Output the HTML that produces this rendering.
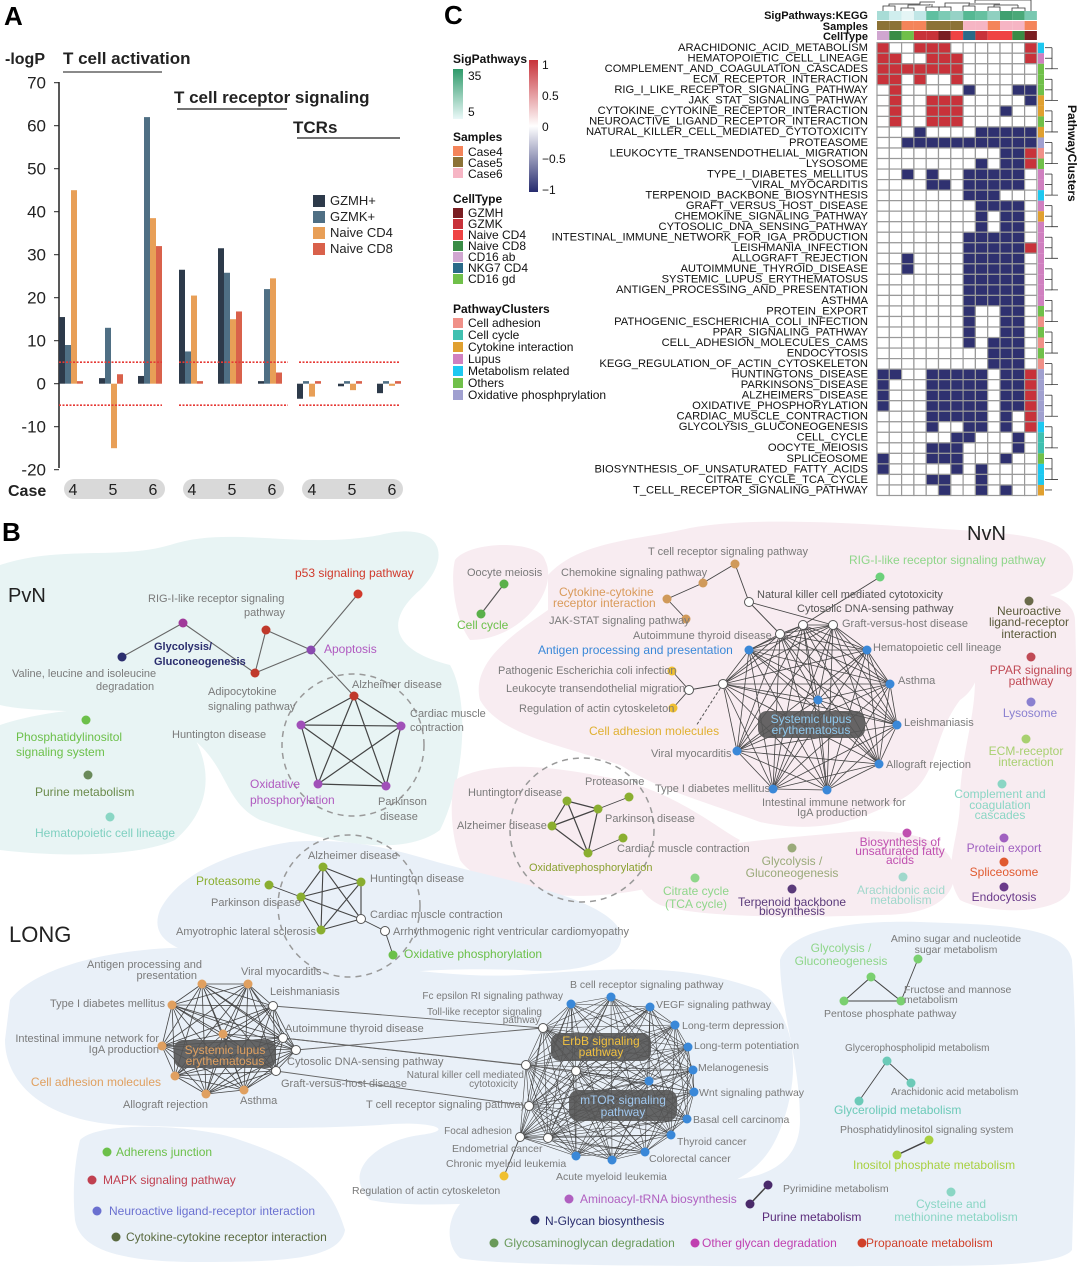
<!DOCTYPE html>
<html><head><meta charset="utf-8"><style>
body{margin:0;background:#fff}
svg{display:block;font-family:"Liberation Sans",sans-serif}
.g{fill:#7a7a7a;font-size:11px}
.hl text{font-size:11.2px;fill:#111;text-anchor:end}
</style></head><body>
<svg id="s" width="1080" height="1276" viewBox="0 0 1080 1276" xmlns="http://www.w3.org/2000/svg">
<!-- ===== Panel A ===== -->
<text x="4" y="25" font-size="26" font-weight="bold">A</text>
<text x="5" y="64" font-size="16" font-weight="bold" fill="#222">-logP</text>
<text x="63" y="64" font-size="17" font-weight="bold" fill="#222">T cell activation</text>
<line x1="63" y1="72" x2="162" y2="72" stroke="#444" stroke-width="1.2"/>
<text x="174" y="103" font-size="17" font-weight="bold" fill="#222">T cell receptor signaling</text>
<line x1="177" y1="109" x2="287" y2="109" stroke="#222" stroke-width="1.2"/>
<text x="293" y="133" font-size="17" font-weight="bold" fill="#222">TCRs</text>
<line x1="297" y1="138" x2="400" y2="138" stroke="#222" stroke-width="1.2"/>
<g id="ga"></g>
<g font-size="13" fill="#222">
<rect x="313" y="195" width="12" height="12" fill="#2d3a4a"/><text x="330" y="205">GZMH+</text>
<rect x="313" y="211" width="12" height="12" fill="#4f6f84"/><text x="330" y="221">GZMK+</text>
<rect x="313" y="227" width="12" height="12" fill="#e89f57"/><text x="330" y="237">Naive CD4</text>
<rect x="313" y="243" width="12" height="12" fill="#d9614b"/><text x="330" y="253">Naive CD8</text>
</g>
<text x="8" y="496" font-size="16" font-weight="bold" fill="#222">Case</text>
<rect x="64" y="479" width="101" height="20" rx="10" fill="#d9d9d9"/>
<rect x="183" y="479" width="101" height="20" rx="10" fill="#d9d9d9"/>
<rect x="302" y="479" width="101" height="20" rx="10" fill="#d9d9d9"/>
<g font-size="16" fill="#222" text-anchor="middle">
<text x="73" y="495">4</text><text x="113" y="495">5</text><text x="153" y="495">6</text>
<text x="192" y="495">4</text><text x="232" y="495">5</text><text x="272" y="495">6</text>
<text x="312" y="495">4</text><text x="352" y="495">5</text><text x="392" y="495">6</text>
</g>

<!-- ===== Panel C ===== -->
<text x="444" y="24" font-size="26" font-weight="bold">C</text>
<g font-size="11" font-weight="bold" text-anchor="end" fill="#111">
<text x="868" y="19">SigPathways:KEGG</text><text x="868" y="30">Samples</text><text x="868" y="40">CellType</text>
</g>
<g id="gc"></g>
<g class="hl">
<text x="868" y="51">ARACHIDONIC_ACID_METABOLISM</text>
<text x="868" y="61.5">HEMATOPOIETIC_CELL_LINEAGE</text>
<text x="868" y="72">COMPLEMENT_AND_COAGULATION_CASCADES</text>
<text x="868" y="82.6">ECM_RECEPTOR_INTERACTION</text>
<text x="868" y="93.1">RIG_I_LIKE_RECEPTOR_SIGNALING_PATHWAY</text>
<text x="868" y="103.6">JAK_STAT_SIGNALING_PATHWAY</text>
<text x="868" y="114.2">CYTOKINE_CYTOKINE_RECEPTOR_INTERACTION</text>
<text x="868" y="124.7">NEUROACTIVE_LIGAND_RECEPTOR_INTERACTION</text>
<text x="868" y="135.2">NATURAL_KILLER_CELL_MEDIATED_CYTOTOXICITY</text>
<text x="868" y="145.8">PROTEASOME</text>
<text x="868" y="156.3">LEUKOCYTE_TRANSENDOTHELIAL_MIGRATION</text>
<text x="868" y="166.8">LYSOSOME</text>
<text x="868" y="177.4">TYPE_I_DIABETES_MELLITUS</text>
<text x="868" y="187.9">VIRAL_MYOCARDITIS</text>
<text x="868" y="198.4">TERPENOID_BACKBONE_BIOSYNTHESIS</text>
<text x="868" y="209">GRAFT_VERSUS_HOST_DISEASE</text>
<text x="868" y="219.5">CHEMOKINE_SIGNALING_PATHWAY</text>
<text x="868" y="230">CYTOSOLIC_DNA_SENSING_PATHWAY</text>
<text x="868" y="240.6">INTESTINAL_IMMUNE_NETWORK_FOR_IGA_PRODUCTION</text>
<text x="868" y="251.1">LEISHMANIA_INFECTION</text>
<text x="868" y="261.6">ALLOGRAFT_REJECTION</text>
<text x="868" y="272.2">AUTOIMMUNE_THYROID_DISEASE</text>
<text x="868" y="282.7">SYSTEMIC_LUPUS_ERYTHEMATOSUS</text>
<text x="868" y="293.2">ANTIGEN_PROCESSING_AND_PRESENTATION</text>
<text x="868" y="303.8">ASTHMA</text>
<text x="868" y="314.3">PROTEIN_EXPORT</text>
<text x="868" y="324.8">PATHOGENIC_ESCHERICHIA_COLI_INFECTION</text>
<text x="868" y="335.4">PPAR_SIGNALING_PATHWAY</text>
<text x="868" y="345.9">CELL_ADHESION_MOLECULES_CAMS</text>
<text x="868" y="356.4">ENDOCYTOSIS</text>
<text x="868" y="367">KEGG_REGULATION_OF_ACTIN_CYTOSKELETON</text>
<text x="868" y="377.5">HUNTINGTONS_DISEASE</text>
<text x="868" y="388">PARKINSONS_DISEASE</text>
<text x="868" y="398.6">ALZHEIMERS_DISEASE</text>
<text x="868" y="409.1">OXIDATIVE_PHOSPHORYLATION</text>
<text x="868" y="419.6">CARDIAC_MUSCLE_CONTRACTION</text>
<text x="868" y="430.2">GLYCOLYSIS_GLUCONEOGENESIS</text>
<text x="868" y="440.7">CELL_CYCLE</text>
<text x="868" y="451.2">OOCYTE_MEIOSIS</text>
<text x="868" y="461.8">SPLICEOSOME</text>
<text x="868" y="472.3">BIOSYNTHESIS_OF_UNSATURATED_FATTY_ACIDS</text>
<text x="868" y="482.8">CITRATE_CYCLE_TCA_CYCLE</text>
<text x="868" y="493.4">T_CELL_RECEPTOR_SIGNALING_PATHWAY</text>
</g>
<text transform="translate(1068,105) rotate(90)" font-size="12" font-weight="bold" fill="#111">PathwayClusters</text>
<defs>
<linearGradient id="gr1" x1="0" y1="0" x2="0" y2="1"><stop offset="0" stop-color="#2e9a6a"/><stop offset="1" stop-color="#eaf8f8"/></linearGradient>
<linearGradient id="gr2" x1="0" y1="0" x2="0" y2="1"><stop offset="0" stop-color="#c8323a"/><stop offset=".5" stop-color="#ffffff"/><stop offset="1" stop-color="#262b6e"/></linearGradient>
</defs>
<g font-size="12" fill="#111">
<text x="453" y="63" font-weight="bold">SigPathways</text>
<rect x="453" y="69" width="10" height="50" fill="url(#gr1)"/>
<text x="468" y="80">35</text><text x="468" y="116">5</text>
<rect x="529" y="60" width="9" height="132" fill="url(#gr2)"/>
<text x="542" y="69">1</text><text x="542" y="100">0.5</text><text x="542" y="131">0</text><text x="542" y="163">−0.5</text><text x="542" y="194">−1</text>
<text x="453" y="141" font-weight="bold">Samples</text>
<rect x="453" y="146" width="10" height="10" fill="#f4845a"/><text x="468" y="156">Case4</text>
<rect x="453" y="157" width="10" height="10" fill="#8c7236"/><text x="468" y="167">Case5</text>
<rect x="453" y="168" width="10" height="10" fill="#f6b5c4"/><text x="468" y="178">Case6</text>
<text x="453" y="203" font-weight="bold">CellType</text>
<rect x="453" y="208" width="10" height="10" fill="#7a1e22"/><text x="468" y="217">GZMH</text>
<rect x="453" y="219" width="10" height="10" fill="#c8323a"/><text x="468" y="228">GZMK</text>
<rect x="453" y="230" width="10" height="10" fill="#ef4444"/><text x="468" y="239">Naive CD4</text>
<rect x="453" y="241" width="10" height="10" fill="#3a8c46"/><text x="468" y="250">Naive CD8</text>
<rect x="453" y="252" width="10" height="10" fill="#d0a6d0"/><text x="468" y="261">CD16 ab</text>
<rect x="453" y="263" width="10" height="10" fill="#2a6a88"/><text x="468" y="272">NKG7 CD4</text>
<rect x="453" y="274" width="10" height="10" fill="#70c04a"/><text x="468" y="283">CD16 gd</text>
<text x="453" y="313" font-weight="bold">PathwayClusters</text>
<rect x="453" y="318" width="10" height="10" fill="#f09088"/><text x="468" y="327">Cell adhesion</text>
<rect x="453" y="330" width="10" height="10" fill="#40c0b0"/><text x="468" y="339">Cell cycle</text>
<rect x="453" y="342" width="10" height="10" fill="#e0a030"/><text x="468" y="351">Cytokine interaction</text>
<rect x="453" y="354" width="10" height="10" fill="#d080c0"/><text x="468" y="363">Lupus</text>
<rect x="453" y="366" width="10" height="10" fill="#1ec8f0"/><text x="468" y="375">Metabolism related</text>
<rect x="453" y="378" width="10" height="10" fill="#70c04a"/><text x="468" y="387">Others</text>
<rect x="453" y="390" width="10" height="10" fill="#a0a0d0"/><text x="468" y="399">Oxidative phosphprylation</text>
</g>

<!-- ===== Panel B ===== -->
<text x="2" y="541" font-size="26" font-weight="bold">B</text>
<g id="blobs">
<path d="M0,565 C60,545 120,560 170,545 C230,525 300,550 380,535 C440,520 455,555 420,590 C385,620 390,650 450,665 C470,700 465,780 440,830 C400,860 320,840 260,820 C220,800 230,760 180,730 C120,705 40,715 0,705 Z" fill="#e8f4f4"/>
<path d="M0,725 C60,705 160,700 190,730 C215,770 210,810 175,840 C130,860 40,855 0,850 Z" fill="#e8f4f4"/>
<path d="M455,560 C470,540 540,540 545,560 C560,590 520,640 470,640 C455,620 450,580 455,560 Z" fill="#f8ecf1"/>
<path d="M548,575 C580,540 640,540 690,528 C760,515 880,525 960,530 C1050,535 1080,545 1072,580 C1060,600 1030,595 1000,610 C975,640 990,680 960,700 C930,740 940,780 900,800 C860,820 820,835 760,822 C700,800 660,790 620,765 C560,745 500,735 480,700 C470,660 520,630 548,610 Z" fill="#f8ecf1"/>
<path d="M985,615 C1010,580 1075,590 1075,620 C1078,700 1075,790 1070,890 C1060,915 990,915 960,900 C940,870 960,840 960,800 C960,760 975,720 975,680 C975,650 970,635 985,615 Z" fill="#f8ecf1"/>
<path d="M455,780 C490,760 550,765 620,780 C680,795 720,830 740,840 C720,870 680,880 640,890 C560,905 480,890 460,860 C450,830 450,800 455,780 Z" fill="#f8ecf1"/>
<path d="M640,870 C680,845 760,840 850,832 C910,828 950,840 955,870 C955,900 930,915 880,915 C800,918 700,918 660,905 C640,895 635,880 640,870 Z" fill="#f8ecf1"/>
<path d="M160,910 C180,870 240,850 290,842 C340,838 380,845 430,860 C500,880 600,895 620,930 C630,960 580,975 520,970 C460,968 420,970 380,975 C300,975 240,965 200,955 C170,948 150,935 160,910 Z" fill="#e9f0f8"/>
<path d="M10,1000 C40,960 150,940 240,950 C330,955 430,980 520,975 C600,970 680,960 760,990 C800,1020 800,1080 780,1130 C760,1180 720,1200 600,1200 C500,1200 420,1210 370,1200 C340,1170 380,1140 420,1135 C460,1130 430,1120 380,1125 C300,1130 200,1128 120,1125 C40,1120 5,1080 5,1040 Z" fill="#e9f0f8"/>
<path d="M780,960 C790,930 850,920 920,922 C1000,925 1065,925 1072,960 C1078,1050 1075,1150 1072,1250 C1060,1266 980,1266 900,1266 C800,1266 500,1268 460,1258 C440,1240 450,1200 480,1190 C540,1175 640,1175 720,1180 C770,1180 800,1160 800,1120 C800,1060 780,1010 780,960 Z" fill="#e9f0f8"/>
<path d="M80,1140 C100,1120 200,1125 240,1140 C300,1160 330,1180 345,1230 C340,1260 280,1262 200,1262 C120,1262 80,1250 75,1220 C72,1190 75,1160 80,1140 Z" fill="#e9f0f8"/>
</g>
<g id="edges" stroke="#444" stroke-width="0.8" fill="none"></g>
<g fill="none" stroke="#999" stroke-width="1.5" stroke-dasharray="6,5">
<circle cx="353" cy="745" r="71"/><circle cx="582" cy="830" r="72"/><circle cx="349" cy="906" r="71"/>
</g>
<line x1="723" y1="684" x2="696" y2="726" stroke="#555" stroke-dasharray="3,2"/>
<rect x="758" y="711" width="107" height="27" rx="9" fill="#555" opacity=".9"/>
<rect x="174" y="1040" width="102" height="28" rx="9" fill="#555" opacity=".9"/>
<rect x="551" y="1033" width="100" height="28" rx="9" fill="#555" opacity=".9"/>
<rect x="569" y="1090" width="108" height="31" rx="9" fill="#555" opacity=".9"/>
<g id="nodes"></g>
<g class="g">
<text x="8" y="602" font-size="20" fill="#222">PvN</text>
<text x="295" y="577" font-size="12" fill="#d0392b">p53 signaling pathway</text>
<text x="148" y="602">RIG-I-like receptor signaling</text><text x="244" y="616">pathway</text>
<text x="154" y="650" font-weight="bold" fill="#2b2e6e">Glycolysis/</text><text x="154" y="665" font-weight="bold" fill="#2b2e6e">Gluconeogenesis</text>
<text x="324" y="653" font-size="12" fill="#b05ac0">Apoptosis</text>
<text x="12" y="677">Valine, leucine and isoleucine</text><text x="96" y="690">degradation</text>
<text x="208" y="695">Adipocytokine</text><text x="208" y="710">signaling pathway</text>
<text x="172" y="738">Huntington disease</text>
<text x="352" y="688">Alzheimer disease</text>
<text x="410" y="717">Cardiac muscle</text><text x="410" y="731">contraction</text>
<text x="250" y="788" font-size="12" fill="#b05ac0">Oxidative</text><text x="250" y="804" font-size="12" fill="#b05ac0">phosphorylation</text>
<text x="378" y="805">Parkinson</text><text x="380" y="820">disease</text>
<text x="16" y="741" font-size="12" fill="#6cc04a">Phosphatidylinositol</text><text x="16" y="756" font-size="12" fill="#6cc04a">signaling system</text>
<text x="35" y="796" font-size="12" fill="#6a8a4a">Purine metabolism</text>
<text x="35" y="837" font-size="12" fill="#7fd0c0">Hematopoietic cell lineage</text>

<text x="967" y="540" font-size="20" fill="#222">NvN</text>
<text x="467" y="576">Oocyte meiosis</text>
<text x="457" y="629" font-size="12" fill="#6cc04a">Cell cycle</text>
<text x="648" y="555">T cell receptor signaling pathway</text>
<text x="561" y="576">Chemokine signaling pathway</text>
<text x="559" y="596" font-size="12" fill="#d99a5a">Cytokine-cytokine</text><text x="553" y="607" font-size="12" fill="#d99a5a">receptor interaction</text>
<text x="549" y="624">JAK-STAT signaling pathway</text>
<text x="757" y="598" fill="#555">Natural killer cell mediated cytotoxicity</text>
<text x="797" y="612" fill="#555">Cytosolic DNA-sensing pathway</text>
<text x="842" y="627">Graft-versus-host disease</text>
<text x="633" y="639">Autoimmune thyroid disease</text>
<text x="538" y="654" font-size="12" fill="#3a88d8">Antigen processing and presentation</text>
<text x="873" y="651">Hematopoietic cell lineage</text>
<text x="849" y="564" font-size="12" fill="#8fd68a">RIG-I-like receptor signaling pathway</text>
<text x="498" y="674">Pathogenic Escherichia coli infection</text>
<text x="506" y="692">Leukocyte transendothelial migration</text>
<text x="519" y="712">Regulation of actin cytoskeleton</text>
<text x="589" y="735" font-size="12" fill="#e0b030">Cell adhesion molecules</text>
<text x="898" y="684">Asthma</text>
<text x="904" y="726">Leishmaniasis</text>
<text x="651" y="757">Viral myocarditis</text>
<text x="886" y="768">Allograft rejection</text>
<text x="655" y="792">Type I diabetes mellitus</text>
<text x="762" y="806">Intestinal immune network for</text><text x="797" y="816">IgA production</text>
<text x="811" y="723" font-size="12" fill="#8ec8ee" text-anchor="middle">Systemic lupus</text><text x="811" y="734" font-size="12" fill="#8ec8ee" text-anchor="middle">erythematosus</text>
<g text-anchor="middle" font-size="12">
<text x="1029" y="615" fill="#5a5a3a">Neuroactive</text><text x="1029" y="626" fill="#5a5a3a">ligand-receptor</text><text x="1029" y="638" fill="#5a5a3a">interaction</text>
<text x="1031" y="674" fill="#c04a55">PPAR signaling</text><text x="1031" y="685" fill="#c04a55">pathway</text>
<text x="1030" y="717" fill="#8a80d0">Lysosome</text>
<text x="1026" y="755" fill="#a8d070">ECM-receptor</text><text x="1026" y="766" fill="#a8d070">interaction</text>
<text x="1000" y="798" fill="#8ad6c4">Complement and</text><text x="1000" y="809" fill="#8ad6c4">coagulation</text><text x="1000" y="819" fill="#8ad6c4">cascades</text>
<text x="1004" y="852" fill="#a060c0">Protein export</text>
<text x="1004" y="876" fill="#e05a30">Spliceosome</text>
<text x="1004" y="901" fill="#6a3a8a">Endocytosis</text>
<text x="900" y="846" fill="#c050b0">Biosynthesis of</text><text x="900" y="855" fill="#c050b0">unsaturated fatty</text><text x="900" y="864" fill="#c050b0">acids</text>
<text x="792" y="865" fill="#9aaa7a">Glycolysis /</text><text x="792" y="877" fill="#9aaa7a">Gluconeogenesis</text>
<text x="696" y="895" fill="#8fd68a">Citrate cycle</text><text x="696" y="908" fill="#8fd68a">(TCA cycle)</text>
<text x="792" y="906" fill="#5a3a7a">Terpenoid backbone</text><text x="792" y="915" fill="#5a3a7a">biosynthesis</text>
<text x="901" y="894" fill="#a0d8cc">Arachidonic acid</text><text x="901" y="904" fill="#a0d8cc">metabolism</text>
</g>
<text x="585" y="785">Proteasome</text>
<text x="468" y="796">Huntington disease</text>
<text x="605" y="822">Parkinson disease</text>
<text x="457" y="829">Alzheimer disease</text>
<text x="617" y="852">Cardiac muscle contraction</text>
<text x="529" y="871" fill="#8aa030">Oxidativephosphorylation</text>

<text x="9" y="942" font-size="22" fill="#222">LONG</text>
<text x="308" y="859">Alzheimer disease</text>
<text x="196" y="885" font-size="12" fill="#8aae30">Proteasome</text>
<text x="370" y="882">Huntington disease</text>
<text x="211" y="906">Parkinson disease</text>
<text x="370" y="918">Cardiac muscle contraction</text>
<text x="176" y="935">Amyotrophic lateral sclerosis</text>
<text x="393" y="935">Arrhythmogenic right ventricular cardiomyopathy</text>
<text x="404" y="958" font-size="12" fill="#6cc04a">Oxidative phosphorylation</text>
<g text-anchor="end">
<text x="202" y="968">Antigen processing and</text><text x="197" y="979">presentation</text>
<text x="165" y="1007">Type I diabetes mellitus</text>
<text x="159" y="1042">Intestinal immune network for</text><text x="159" y="1053">IgA production</text>
<text x="161" y="1086" font-size="12" fill="#e0a060">Cell adhesion molecules</text>
<text x="563" y="999" font-size="10">Fc epsilon RI signaling pathway</text>
<text x="542" y="1015" font-size="10">Toll-like receptor signaling</text><text x="540" y="1023" font-size="10">pathway</text>
<text x="524" y="1078" font-size="10">Natural killer cell mediated</text><text x="518" y="1087" font-size="10">cytotoxicity</text>
<text x="526" y="1108">T cell receptor signaling pathway</text>
<text x="512" y="1134" font-size="10">Focal adhesion</text>
</g>
<text x="241" y="975">Viral myocarditis</text>
<text x="270" y="995">Leishmaniasis</text>
<text x="285" y="1032">Autoimmune thyroid disease</text>
<text x="287" y="1065">Cytosolic DNA-sensing pathway</text>
<text x="281" y="1087">Graft-versus-host disease</text>
<text x="123" y="1108">Allograft rejection</text>
<text x="240" y="1104">Asthma</text>
<text x="225" y="1054" font-size="12" fill="#e0a060" text-anchor="middle">Systemic lupus</text><text x="225" y="1065" font-size="12" fill="#e0a060" text-anchor="middle">erythematosus</text>
<text x="601" y="1045" font-size="12" fill="#f0c040" text-anchor="middle">ErbB signaling</text><text x="601" y="1056" font-size="12" fill="#f0c040" text-anchor="middle">pathway</text>
<text x="623" y="1104" font-size="12" fill="#a0c8f0" text-anchor="middle">mTOR signaling</text><text x="623" y="1116" font-size="12" fill="#a0c8f0" text-anchor="middle">pathway</text>
<text x="570" y="988" font-size="10.5">B cell receptor signaling pathway</text>
<text x="656" y="1008" font-size="10.5">VEGF signaling pathway</text>
<text x="682" y="1029" font-size="10.5">Long-term depression</text>
<text x="694" y="1049" font-size="10.5">Long-term potentiation</text>
<text x="698" y="1071" font-size="10.5">Melanogenesis</text>
<text x="699" y="1096" font-size="10.5">Wnt signaling pathway</text>
<text x="693" y="1123" font-size="10.5">Basal cell carcinoma</text>
<text x="677" y="1145" font-size="10.5">Thyroid cancer</text>
<text x="452" y="1152" font-size="10.5">Endometrial cancer</text>
<text x="649" y="1162" font-size="10.5">Colorectal cancer</text>
<text x="446" y="1167" font-size="10.5">Chronic myeloid leukemia</text>
<text x="556" y="1180" font-size="10.5">Acute myeloid leukemia</text>
<text x="352" y="1194" font-size="10.5">Regulation of actin cytoskeleton</text>
<g text-anchor="middle">
<text x="841" y="952" font-size="12" fill="#8fd68a">Glycolysis /</text><text x="841" y="965" font-size="12" fill="#8fd68a">Gluconeogenesis</text>
<text x="956" y="942" font-size="10.5">Amino sugar and nucleotide</text><text x="956" y="953" font-size="10.5">sugar metabolism</text>
</g>
<text x="904" y="993" font-size="10.5">Fructose and mannose</text><text x="904" y="1003" font-size="10.5">metabolism</text>
<text x="824" y="1017" font-size="10.5">Pentose phosphate pathway</text>
<text x="845" y="1051" font-size="10">Glycerophospholipid metabolism</text>
<text x="891" y="1095" font-size="10">Arachidonic acid metabolism</text>
<text x="834" y="1114" font-size="12" fill="#6ccab8">Glycerolipid metabolism</text>
<text x="840" y="1133" font-size="10.5">Phosphatidylinositol signaling system</text>
<text x="853" y="1169" font-size="12" fill="#a8d040">Inositol phosphate metabolism</text>
<text x="783" y="1192" font-size="10.5">Pyrimidine metabolism</text>
<text x="762" y="1221" font-size="12" fill="#5a2a7a">Purine metabolism</text>
<text x="951" y="1208" font-size="12" fill="#8ad6c4" text-anchor="middle">Cysteine and</text><text x="956" y="1221" font-size="12" fill="#8ad6c4" text-anchor="middle">methionine metabolism</text>
<text x="580" y="1203" font-size="12" fill="#b060c0">Aminoacyl-tRNA biosynthesis</text>
<text x="545" y="1225" font-size="12" fill="#2b2e6e">N-Glycan biosynthesis</text>
<text x="504" y="1247" font-size="12" fill="#6a9a5a">Glycosaminoglycan degradation</text>
<text x="702" y="1247" font-size="12" fill="#c040b0">Other glycan degradation</text>
<text x="866" y="1247" font-size="12" fill="#d0402a">Propanoate metabolism</text>
<text x="116" y="1156" font-size="12" fill="#6cc04a">Adherens junction</text>
<text x="103" y="1184" font-size="12" fill="#c04050">MAPK signaling pathway</text>
<text x="109" y="1215" font-size="12" fill="#6a70d0">Neuroactive ligand-receptor interaction</text>
<text x="126" y="1241" font-size="12" fill="#5a6a40">Cytokine-cytokine receptor interaction</text>
</g>
</svg>
<script>
var NS="http://www.w3.org/2000/svg";
function el(p,t,a){var e=document.createElementNS(NS,t);for(var k in a)e.setAttribute(k,a[k]);document.getElementById(p).appendChild(e);return e;}
var y0=383.7,k=4.3;
el("ga","line",{x1:59,y1:82,x2:59,y2:468,stroke:"#222","stroke-width":1.5});
for(var v=70;v>=-20;v-=10){var yy=y0-v*k;el("ga","line",{x1:54,y1:yy,x2:59,y2:yy,stroke:"#222"});var t=el("ga","text",{x:46,y:yy+6,"font-size":17,"text-anchor":"end",fill:"#222"});t.textContent=v;}
var cols=["#2d3a4a","#4f6f84","#e89f57","#d9614b"];
var D=[[59,[15.5,9,45,0.6]],[99,[1.3,13,-15,2.2]],[138,[1.8,62,38.5,32]],[179,[26.5,7.5,20.5,0.6]],[218,[31.5,25.8,15,16.8]],[258,[0.6,22,24.5,2.6]],[297,[-3.5,0.6,-3,0.6]],[338,[-0.6,0.6,-1.5,0.6]],[377,[-2.2,0.6,-0.5,0.6]]];
D.forEach(function(g){g[1].forEach(function(v,i){var y=v>0?y0-v*k:y0;el("ga","rect",{x:g[0]+i*6,y:y,width:6,height:Math.abs(v)*k,fill:cols[i]});});});
[[59,162],[179,288],[299,400]].forEach(function(s){[y0-5*k,y0+5*k].forEach(function(y){el("ga","line",{x1:s[0],y1:y,x2:s[1],y2:y,stroke:"#e53935","stroke-width":1.6,"stroke-dasharray":"2,1.5"});});});
var rows=["R..RRR......R","RR..RRR.....R","RRRRRRR......","RR.R..R......",".R.....B...BB",".R..RRR.....B",".R..RRR...B..",".R..RRR......","...B....BBBBB","..BBBBBBBBBBB","..........BBR","........B.BBR","..B.B..BBBBB.","....BB.BBBBB.",".......BBB...","........BBBB.","........B.BB.","........B.BB.",".......BBBBB.",".......BBBBBR","..B....BBBBB.","..B....BBBBB.",".......BBBBB.",".......BBBBB.",".......BBBBB.",".......B..BB.",".......B..BB.",".......B..BB.",".......B.BBB.",".........BBB.",".........BBB.","BB..BBBBB.BBR","B...BBBBB.BBR","B...BBBBB.BBR","B...BBBBB.BBR","....BBBBB.B.R","....B..BB.B.R","......BB...B.","....BBB....B.","B...BBB...B..","B.....B.B....","....BB..B....",".....B..B.B.."];
var cw=12.3,x0=877,ry=42.7,rh=10.53;
rows.forEach(function(r,i){for(var j=0;j<13;j++){var c=r[j];el("gc","rect",{x:x0+j*cw,y:ry+i*rh,width:cw,height:rh,fill:c=="R"?"#c8323a":c=="B"?"#2f3170":"#fff",stroke:"#9a9a9a","stroke-width":1.2});}});
var sig=["#a8dcd6","#d0eeee","#e5f5f5","#c0e6e6","#5fbfa0","#7ccbb5","#96d2c6","#55b893","#66c0a0","#8fd0c0","#40a070","#4aa878","#79c8b0"];
var smp=["#8c7236","#8c7236","#f4845a","#f4845a","#8c7236","#8c7236","#8c7236","#f6b5c4","#f6b5c4","#f4845a","#f6b5c4","#f6b5c4","#f4845a"];
var ct=["#d0a6d0","#3a8c46","#70c04a","#c8323a","#c8323a","#7a1e22","#ef4444","#2a6a88","#c8323a","#ef4444","#ef4444","#3a8c46","#7a1e22"];
for(var j=0;j<13;j++){el("gc","rect",{x:x0+j*cw,y:11,width:cw,height:9,fill:sig[j]});el("gc","rect",{x:x0+j*cw,y:21,width:cw,height:9,fill:smp[j]});el("gc","rect",{x:x0+j*cw,y:31,width:cw,height:9,fill:ct[j]});}
var dl=["M883,11V6H895V11","M889,6V4H920V2H935","M901,11V8H914V11","M908,8V5H930V4","M926,11V7H939V11","M932,7V4","M939,11V7H951V11","M945,7V3H970","M963,11V6H975V11","M969,6V4H1000","M988,11V7H1000V11","M994,7V5H1018","M1012,11V8H1025V11","M1018,8V5","M1031,11V6","M975,3V0H1031V6"];
dl.forEach(function(d){el("gc","path",{d:d,stroke:"#333",fill:"none","stroke-width":0.8});});
var cl="CPGGGOOGOLSGPPCPOPPPPPPPPGSGSGSLLLLLCTTGCCO";
var cm={C:"#1ec8f0",P:"#d080c0",G:"#70c04a",O:"#e0a030",L:"#a0a0d0",S:"#f09088",T:"#40c0b0"};
for(var i=0;i<43;i++){el("gc","rect",{x:1038,y:ry+i*rh,width:6,height:rh,fill:cm[cl[i]]});el("gc","line",{x1:1045,y1:ry+i*rh+5,x2:1052,y2:ry+i*rh+5,stroke:"#333","stroke-width":0.8});}
for(var i=0;i<41;i+=3){el("gc","path",{d:"M1052,"+(ry+i*rh+5)+"V"+(ry+Math.min(i+2,42)*rh+5)+"H1058",stroke:"#333",fill:"none","stroke-width":0.8});}
function ln(a,b,w,c){el("edges","line",{x1:a[0],y1:a[1],x2:b[0],y2:b[1],"stroke-width":w||0.9,stroke:c||"#444"});}
function comp(L,w){for(var i=0;i<L.length;i++)for(var j=i+1;j<L.length;j++)ln(L[i],L[j],w);}
var val=[122,657],rig=[183,623],adi=[255,673],r2=[266,630],apo=[311,650],p53=[358,594],alz=[354,696];
[[val,rig],[rig,adi],[adi,r2],[r2,apo],[adi,apo],[apo,p53],[apo,alz]].forEach(function(e){ln(e[0],e[1],1.1,"#666");});
var pent=[alz,[301,725],[401,726],[318,784],[386,786]];comp(pent,1.2);
var oo=[504,584],cc=[481,614];ln(oo,cc,1.1,"#555");
var tc=[735,564],ch=[703,583],cy=[667,599],jak=[686,619],w1=[749,602];
ln(tc,ch);ln(ch,cy);ln(cy,jak);ln(tc,w1);
var lup=[[780,634],[803,625],[833,625],[749,650],[867,650],[890,684],[897,725],[879,764],[827,790],[773,789],[737,751],[723,684],[818,700]];
comp(lup,0.8);ln(w1,[780,634]);ln(w1,[833,625]);ln([880,577],[803,625]);
var lk=[689,690];ln(lk,[723,684]);ln(lk,[672,671]);ln(lk,[673,708]);
var ox=[[567,801],[598,809],[552,826],[588,853]];comp(ox,1.2);ln([598,809],[629,797]);ln([588,853],[623,838]);
var al=[[323,867],[361,882],[301,897],[361,919],[321,930]];comp(al,1.1);ln([269,885],[301,897]);ln([361,919],[385,931]);ln([385,931],[393,955]);
var ll=[[202,984],[248,984],[172,1005],[273,1006],[223,1034],[283,1038],[162,1046],[296,1050],[175,1076],[276,1071],[206,1094],[244,1090]];comp(ll,0.8);
var rn=[[543,1028],[526,1065],[576,1071],[529,1106],[520,1137],[548,1138],[571,1004],[611,997],[650,1007],[675,1025],[688,1047],[693,1070],[694,1092],[687,1119],[671,1135],[645,1152],[612,1160],[576,1156],[649,1081]];
for(var i=0;i<rn.length;i++)for(var j=i+1;j<rn.length;j++){if((i+j)%3!=0||i<6)ln(rn[i],rn[j],0.6);}
ln([520,1137],[504,1176]);
ln([273,1006],[543,1028],0.9,"#666");ln([283,1038],[526,1065],0.9,"#666");ln([296,1050],[543,1028],0.9,"#666");ln([276,1071],[529,1106],0.9,"#666");ln([283,1038],[576,1071],0.9,"#666");
var g1=[871,977],g2=[844,1001],g3=[901,1001];comp([g1,g2,g3],1.1);ln(g3,[918,959]);
ln([887,1061],[911,1083]);ln([887,1061],[859,1101]);ln([929,1140],[897,1155],1.5);ln([768,1185],[750,1204],1.5);
function nd(p,c,r){el("nodes","circle",{cx:p[0],cy:p[1],r:r||4.5,fill:c,stroke:c=="#fff"?"#555":"none","stroke-width":1});}
var W="#fff";
nd(val,"#2b2e6e");nd(rig,"#a03a9a");nd(adi,"#c0392b");nd(r2,"#c0392b");nd(apo,"#8a4ab0");nd(p53,"#d0392b");nd(alz,"#c0392b");
[[301,725],[401,726],[318,784],[386,786]].forEach(function(p){nd(p,"#a050b8");});
nd([86,720],"#6cc04a");nd([88,775],"#6a8a5a");nd([110,817],"#8ad6c4");
nd(oo,"#5ab04a");nd(cc,"#5ab04a");nd(tc,"#d09a5a");nd(ch,"#d09a5a");nd(cy,"#d09a5a");nd(jak,"#d09a5a");nd(w1,W);
lup.forEach(function(p,i){nd(p,(i<3||i==11)?W:"#3a88d8");});
nd([880,577],"#6cd07a");nd([672,671],"#f0c030");nd([673,708],"#f0c030");nd(lk,W);
nd([1029,601],"#6a6a4a");nd([1031,657],"#c04a55");nd([1031,702],"#8a80d0");nd([1026,739],"#a8d070");nd([1002,784],"#8ad6c4");nd([1004,838],"#a060c0");nd([1004,862],"#e05a30");nd([1004,887],"#6a3a8a");
nd([907,833],"#c050b0");nd([792,848],"#9aaa7a");nd([695,878],"#8fd68a");nd([792,889],"#5a3a7a");nd([903,877],"#a0d8cc");
ox.forEach(function(p){nd(p,"#8aae30");});nd([629,797],"#8aae30");nd([623,838],"#8aae30");
al.forEach(function(p,i){nd(p,i==3?W:"#8aae30");});nd([269,885],"#8aae30");nd([385,931],W);nd([393,955],"#6cc04a");
ll.forEach(function(p,i){nd(p,[3,5,7,9].indexOf(i)>=0?W:"#e0a060");});
rn.forEach(function(p,i){nd(p,i<6?W:"#3a88d8");});nd([504,1176],"#f0c030");
[g1,g2,g3,[918,959]].forEach(function(p){nd(p,"#7ad070");});
nd([887,1061],"#6ccab8");nd([911,1083],"#6ccab8");nd([859,1101],"#6ccab8");nd([929,1140],"#a8d040");nd([897,1155],"#a8d040");
nd([768,1185],"#4a2a6a");nd([750,1204],"#4a2a6a");nd([951,1192],"#8ad6c4");nd([569,1199],"#b060c0");nd([535,1220],"#2b2e6e");nd([494,1243],"#6a9a5a");nd([695,1243],"#c040b0");nd([862,1243],"#d0402a");
nd([107,1152],"#6cc04a");nd([92,1180],"#c04050");nd([97,1211],"#6a70d0");nd([116,1237],"#5a6a40");
</script>
</body></html>
